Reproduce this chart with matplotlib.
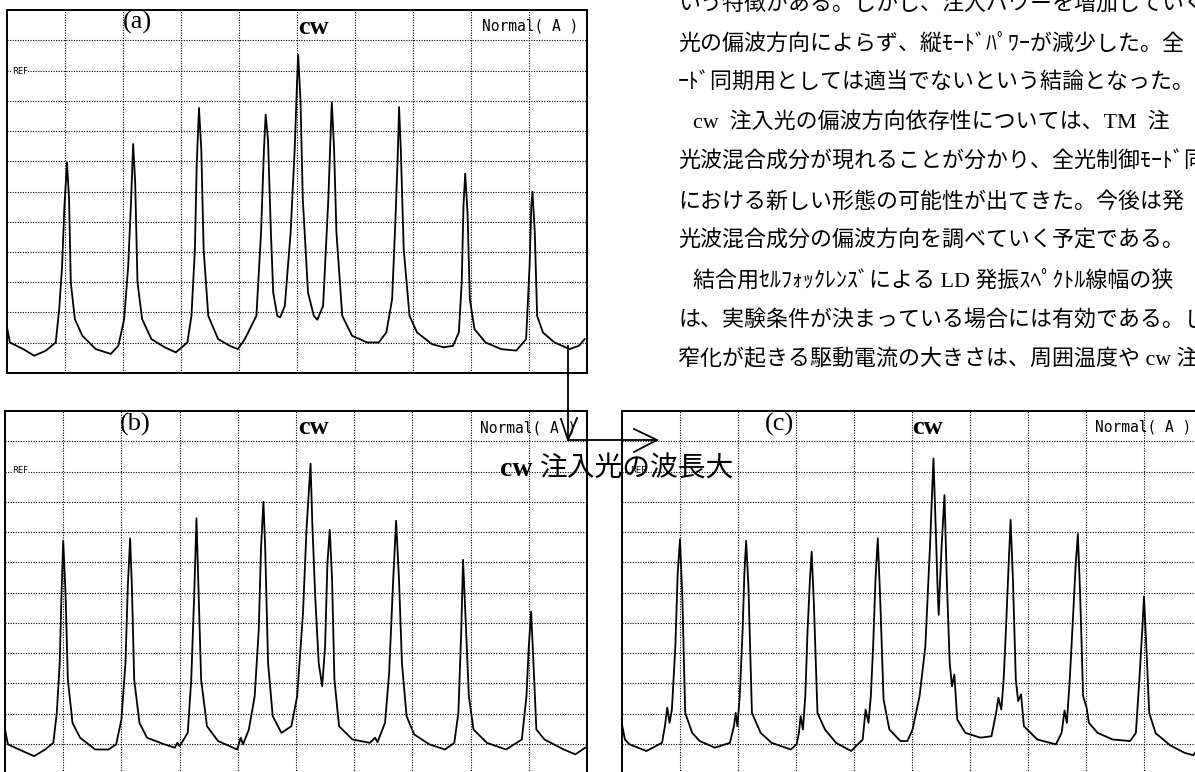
import matplotlib
matplotlib.use('Agg')
import matplotlib.pyplot as plt
from matplotlib.lines import Line2D

# ---------------- data (grid divisions: x 0..10, y 0..12) -------------
a_trace = [(0, 1.51), (0.05, 1.01), (0.28, 0.79), (0.47, 0.57), (0.67, 0.74), (0.84, 1.01),
           (0.90, 2.11), (0.95, 3.54), (0.99, 5.52), (1.035, 6.95), (1.07, 5.74), (1.10, 2.99),
           (1.17, 1.78), (1.30, 1.23), (1.53, 0.79), (1.79, 0.63), (1.92, 0.90), (2.02, 1.78),
           (2.09, 3.54), (2.14, 5.74), (2.175, 7.57), (2.21, 6.29), (2.25, 2.99), (2.33, 1.78),
           (2.49, 1.12), (2.72, 0.85), (2.91, 0.68), (3.11, 1.01), (3.18, 1.89), (3.24, 4.09),
           (3.27, 6.84), (3.31, 8.76), (3.35, 7.38), (3.39, 4.09), (3.47, 1.89), (3.64, 1.12),
           (3.84, 0.90), (3.98, 0.79), (4.10, 1.12), (4.30, 1.89), (4.38, 4.64), (4.43, 7.38),
           (4.46, 8.54), (4.50, 7.71), (4.55, 4.64), (4.59, 2.66), (4.66, 1.89), (4.71, 1.84),
           (4.79, 2.22), (4.89, 4.64), (4.96, 7.38), (5.00, 9.58), (5.02, 10.52), (5.06, 9.03),
           (5.10, 5.74), (5.19, 2.66), (5.29, 1.89), (5.35, 1.76), (5.45, 2.22), (5.54, 5.74),
           (5.58, 7.93), (5.60, 8.95), (5.64, 7.38), (5.68, 4.64), (5.78, 1.89), (5.95, 1.23),
           (6.21, 1.01), (6.41, 1.01), (6.54, 1.34), (6.64, 2.44), (6.70, 5.19), (6.74, 7.38),
           (6.76, 8.79), (6.79, 7.38), (6.84, 4.09), (6.94, 1.89), (7.07, 1.34), (7.33, 0.95),
           (7.53, 0.85), (7.69, 0.90), (7.79, 1.34), (7.84, 2.99), (7.87, 5.52), (7.90, 6.59),
           (7.94, 5.30), (7.98, 2.44), (8.06, 1.45), (8.25, 1.01), (8.52, 0.79), (8.78, 0.74),
           (8.95, 1.12), (9.01, 3.54), (9.04, 5.52), (9.06, 5.99), (9.10, 4.64), (9.14, 1.89),
           (9.24, 1.34), (9.44, 1.01), (9.70, 0.79), (9.86, 0.90), (9.96, 1.12)]

b_trace = [(0, 1.47), (0.05, 0.98), (0.30, 0.76), (0.50, 0.59), (0.69, 0.81), (0.83, 1.03),
           (0.89, 2.02), (0.94, 3.67), (0.97, 5.87), (1.00, 7.71), (1.04, 5.98), (1.08, 3.12),
           (1.16, 1.69), (1.29, 1.20), (1.55, 0.81), (1.78, 0.81), (1.91, 0.98), (2.00, 1.80),
           (2.07, 3.67), (2.11, 6.20), (2.15, 7.79), (2.18, 6.20), (2.22, 3.12), (2.31, 1.69),
           (2.44, 1.20), (2.74, 0.98), (2.92, 0.87), (2.96, 1.03), (3.00, 0.92), (3.14, 1.36),
           (3.20, 3.12), (3.25, 5.87), (3.29, 8.45), (3.32, 6.42), (3.37, 3.12), (3.47, 1.58),
           (3.66, 1.09), (3.99, 0.81), (4.05, 1.20), (4.09, 0.98), (4.19, 1.47), (4.29, 2.57),
           (4.36, 4.77), (4.40, 7.52), (4.44, 9.00), (4.47, 7.52), (4.52, 3.67), (4.60, 1.91),
           (4.75, 1.36), (4.92, 1.58), (5.02, 2.57), (5.12, 5.32), (5.18, 8.07), (5.25, 10.26),
           (5.28, 8.29), (5.33, 5.87), (5.39, 3.67), (5.45, 2.90), (5.50, 4.22), (5.54, 6.97),
           (5.58, 8.07), (5.62, 6.42), (5.66, 3.12), (5.74, 1.58), (5.97, 1.14), (6.27, 1.03),
           (6.36, 1.20), (6.40, 1.05), (6.53, 1.69), (6.60, 3.34), (6.67, 6.42), (6.72, 8.37),
           (6.77, 6.42), (6.82, 3.67), (6.90, 1.91), (7.03, 1.31), (7.29, 0.98), (7.56, 0.81),
           (7.72, 1.03), (7.79, 2.02), (7.84, 4.77), (7.87, 7.08), (7.91, 5.32), (7.97, 2.57),
           (8.05, 1.47), (8.28, 1.03), (8.61, 0.81), (8.88, 1.14), (8.96, 2.57), (9.00, 4.22),
           (9.04, 5.37), (9.08, 3.67), (9.13, 1.47), (9.27, 1.14), (9.60, 0.81), (9.80, 0.65),
           (9.97, 0.87)]

c_trace = [(0, 1.64), (0.05, 1.14), (0.13, 0.98), (0.42, 0.76), (0.69, 1.03), (0.74, 1.58),
           (0.78, 2.19), (0.82, 1.69), (0.86, 2.13), (0.92, 4.22), (0.96, 6.64), (1.00, 7.76),
           (1.04, 5.87), (1.09, 2.02), (1.21, 1.36), (1.34, 1.09), (1.60, 0.87), (1.86, 1.03),
           (1.93, 1.58), (1.96, 2.02), (1.99, 1.58), (2.03, 2.57), (2.08, 4.77), (2.11, 6.64),
           (2.14, 7.71), (2.18, 6.20), (2.24, 2.02), (2.39, 1.36), (2.58, 1.03), (2.91, 0.81),
           (3.01, 0.98), (3.05, 1.36), (3.08, 1.91), (3.12, 1.47), (3.16, 2.57), (3.20, 4.77),
           (3.24, 6.42), (3.27, 7.35), (3.31, 5.54), (3.37, 2.02), (3.50, 1.47), (3.69, 1.03),
           (3.95, 0.76), (4.15, 1.14), (4.20, 2.13), (4.25, 1.69), (4.29, 2.57), (4.33, 4.22),
           (4.37, 6.42), (4.41, 7.79), (4.45, 5.87), (4.51, 2.46), (4.61, 1.47), (4.80, 1.09),
           (4.92, 1.09), (5.01, 1.47), (5.13, 2.57), (5.23, 4.22), (5.27, 5.87), (5.31, 7.52),
           (5.37, 10.43), (5.41, 8.07), (5.44, 6.20), (5.46, 5.26), (5.48, 6.20), (5.51, 7.52),
           (5.56, 9.22), (5.60, 6.42), (5.65, 3.67), (5.69, 2.90), (5.73, 3.29), (5.78, 1.80),
           (5.92, 1.36), (6.18, 1.20), (6.37, 1.25), (6.45, 2.02), (6.49, 2.52), (6.54, 2.13),
           (6.58, 3.12), (6.62, 4.77), (6.66, 6.64), (6.70, 8.40), (6.74, 6.42), (6.79, 3.12),
           (6.83, 2.41), (6.88, 2.63), (6.93, 1.58), (7.16, 1.14), (7.48, 0.98), (7.58, 1.36),
           (7.63, 2.10), (7.67, 1.69), (7.72, 3.12), (7.78, 5.32), (7.82, 6.86), (7.86, 7.93),
           (7.90, 5.87), (7.95, 2.57), (8.01, 2.20), (8.05, 1.69), (8.20, 1.36), (8.46, 1.14),
           (8.76, 1.09), (8.86, 1.36), (8.92, 3.12), (8.97, 4.77), (9.00, 5.87), (9.04, 4.22),
           (9.09, 2.02), (9.20, 1.35), (9.45, 0.95), (9.70, 0.70), (9.85, 0.62), (9.90, 0.75),
           (10.0, 0.95)]

panel_labels = ["(a)", "(b)", "(c)"]
header_cw = "cw"
header_mode = "Normal( A )"
ref_label = "REF"
arrow_text_latin = "cw"
arrow_text_jp = "注入光の波長大"

body_lines = [
    "いう特徴がある。しかし、注入パワーを増加していくと、",
    "光の偏波方向によらず、縦ﾓｰﾄﾞﾊﾟﾜｰが減少した。全",
    "ｰﾄﾞ同期用としては適当でないという結論となった。",
    "cw  注入光の偏波方向依存性については、TM  注",
    "光波混合成分が現れることが分かり、全光制御ﾓｰﾄﾞ同",
    "における新しい形態の可能性が出てきた。今後は発",
    "光波混合成分の偏波方向を調べていく予定である。",
    "結合用ｾﾙﾌｫｯｸﾚﾝｽﾞによる LD 発振ｽﾍﾟｸﾄﾙ線幅の狭",
    "は、実験条件が決まっている場合には有効である。し",
    "窄化が起きる駆動電流の大きさは、周囲温度や cw 注",
]
body_indent = [0, 0, 0, 1, 0, 0, 0, 1, 0, 0]

# ---------------- layout ----------------
W, H = 1195, 772
fig = plt.figure(figsize=(W / 100, H / 100), dpi=100)
fig.patch.set_facecolor('white')

SERIF_JP = ['Liberation Serif', 'Noto Sans CJK JP']


def fp(x, y):
    return x / W, 1 - y / H


def panel(left, top, right, bottom, trace):
    ax = fig.add_axes([left / W, 1 - bottom / H, (right - left) / W, (bottom - top) / H])
    ax.set_xlim(0, 10)
    ax.set_ylim(0, 12)
    ax.set_xticks(range(1, 10))
    ax.set_yticks(range(1, 12))
    ax.tick_params(length=0, labelbottom=False, labelleft=False)
    ax.grid(True, color='black', linestyle=(0, (1, 1.3)), linewidth=0.8)
    ax.set_axisbelow(True)
    for s in ax.spines.values():
        s.set_linewidth(1.4)
    ax.plot([p[0] for p in trace], [p[1] for p in trace], color='black', lw=1.3,
            solid_joinstyle='round', zorder=3)
    return ax


panel(7, 10, 587, 373, a_trace)
panel(5, 411, 587, 774, b_trace)
panel(622, 411, 1202, 774, c_trace)

# headers
for lab, (lx, ly) in zip(panel_labels, [(137, 22), (135, 424), (779, 424)]):
    fig.text(*fp(lx, ly), lab, ha='center', va='center', fontsize=19,
             family='Liberation Serif')
for cx, cy in [(313, 27), (313, 428), (927, 428)]:
    fig.text(*fp(cx, cy), header_cw, ha='center', va='center', fontsize=19,
             family='Liberation Serif', weight='bold')
for nx, ny in [(482, 26), (480, 428), (1095, 427)]:
    fig.text(*fp(nx, ny), header_mode, ha='left', va='center', fontsize=10.5,
             family='DejaVu Sans Mono')
for rx, ry in [(12, 71), (12, 470), (630, 470)]:
    fig.text(*fp(rx, ry), ref_label, ha='left', va='center', fontsize=6,
             family='DejaVu Sans',
             bbox=dict(facecolor='white', edgecolor='none', pad=0.3))

# arrow
arrow_segments = [((568, 346), (568, 440)), ((568, 440), (657, 440)),
                  ((561, 419), (568, 440)), ((577, 418), (568, 440)),
                  ((634, 429), (657, 440)), ((634, 452), (657, 440))]
for (x0, y0), (x1, y1) in arrow_segments:
    fig.add_artist(Line2D([x0 / W, x1 / W], [1 - y0 / H, 1 - y1 / H],
                          color='black', lw=1.3, transform=fig.transFigure))

fig.text(*fp(500, 469), arrow_text_latin, ha='left', va='center', fontsize=20,
         family='Liberation Serif', weight='bold')
fig.text(*fp(540, 469), arrow_text_jp, ha='left', va='center', fontsize=20,
         family='Noto Sans CJK JP')

# body text (right column)
line_y = [4.5, 44, 83.5, 123, 162.5, 202, 241.5, 281, 320.5, 360]
for txt, yy, ind in zip(body_lines, line_y, body_indent):
    xx = 693 if ind else 678
    fig.text(*fp(xx, yy), txt, ha='left', va='center', fontsize=15.8, family=SERIF_JP)

fig.savefig('out.png', dpi=100, facecolor='white')
